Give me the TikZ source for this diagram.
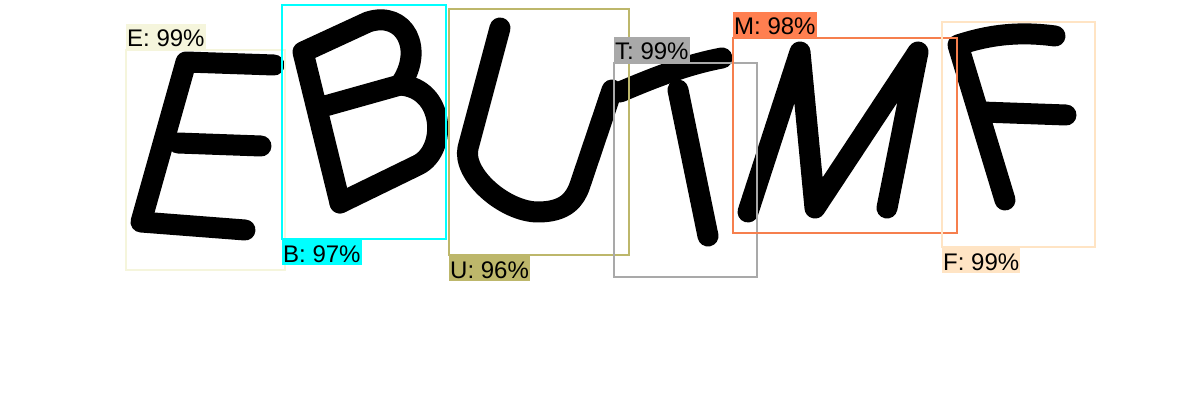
\documentclass[tikz,border=0pt]{standalone}
\usepackage{fontspec}
\setmainfont{Liberation Sans}
\definecolor{tagE}{HTML}{F5F5DC}
\definecolor{tagB}{HTML}{00FFFF}
\definecolor{tagU}{HTML}{BDB76B}
\definecolor{tagT}{HTML}{A9A9A9}
\definecolor{tagM}{HTML}{FF7F50}
\definecolor{tagF}{HTML}{FFE4C4}
\begin{document}
\begin{tikzpicture}[x = 1pt, y = -1pt,
    ink/.style = {black, line width = 21pt, line cap = round, line join = round},
    frame/.style = {line width = 2pt},
    tag/.style = {inner xsep = 1pt, inner ysep = 0pt, text height = 23pt, text depth = 3pt,
                  font = \fontsize{24}{24}\selectfont}]
    \useasboundingbox (0, 0) rectangle (1200, 420);

    \begin{scope}[local bounding box = letters]
        % E
        \draw [ink] (274, 65) -- (186, 62) -- (141, 222) -- (245, 230);
        \draw [ink] (178, 143) -- (261, 146);
        % B
        \draw [ink] (340, 203) -- (303, 52) -- (368, 22)
            .. controls (405, 10) and (425, 50) .. (400, 85) -- (318, 108);
        \draw [ink] (400, 85) .. controls (445, 88) and (448, 150) .. (418, 165) -- (340, 203);
        % U
        \draw [ink] (500, 28) -- (468, 148)
            .. controls (462, 175) and (505, 212) .. (538, 212)
            .. controls (565, 212) and (575, 200) .. (580, 185) -- (612, 90);
        % T
        \draw [ink] (620, 92) .. controls (660, 75) and (690, 64) .. (722, 58);
        \draw [ink] (678, 90) -- (708, 236);
        % M
        \draw [ink] (748, 212) -- (800, 52) -- (815, 208) -- (918, 52) -- (887, 208);
        % F
        \draw [ink] (1055, 36) .. controls (1010, 30) and (980, 38) .. (958, 45) -- (1005, 200);
        \draw [ink] (982, 112) -- (1066, 115);
    \end{scope}

    \begin{scope}[local bounding box = frames]
        % E
        \draw [frame, tagE] (126, 50) coordinate (E nw) rectangle (285, 270);
        % B
        \draw [frame, tagB] (282, 5) rectangle (446, 239) coordinate (B se);
        \coordinate (B sw) at (282, 239);
        % U
        \draw [frame, tagU] (449, 9) rectangle (629, 255);
        \coordinate (U sw) at (449, 255);
        % T
        \draw [frame, tagT] (614, 63) coordinate (T nw) rectangle (757, 277);
        % M
        \draw [frame, tagM!85!brown] (733, 38) coordinate (M nw) rectangle (957, 233);
        % F
        \draw [frame, tagF] (942, 22) rectangle (1095, 247);
        \coordinate (F sw) at (942, 247);
    \end{scope}

    \node (E tag) [tag, fill = tagE, anchor = south west] at (E nw) {E: 99\%};
    \node (B tag) [tag, fill = tagB, anchor = north west] at (B sw) {B: 97\%};
    \node (U tag) [tag, fill = tagU, anchor = north west] at (U sw) {U: 96\%};
    \node (T tag) [tag, fill = tagT, anchor = south west] at (T nw) {T: 99\%};
    \node (M tag) [tag, fill = tagM, anchor = south west] at (M nw) {M: 98\%};
    \node (F tag) [tag, fill = tagF, anchor = north west] at (F sw) {F: 99\%};
\end{tikzpicture}
\end{document}
